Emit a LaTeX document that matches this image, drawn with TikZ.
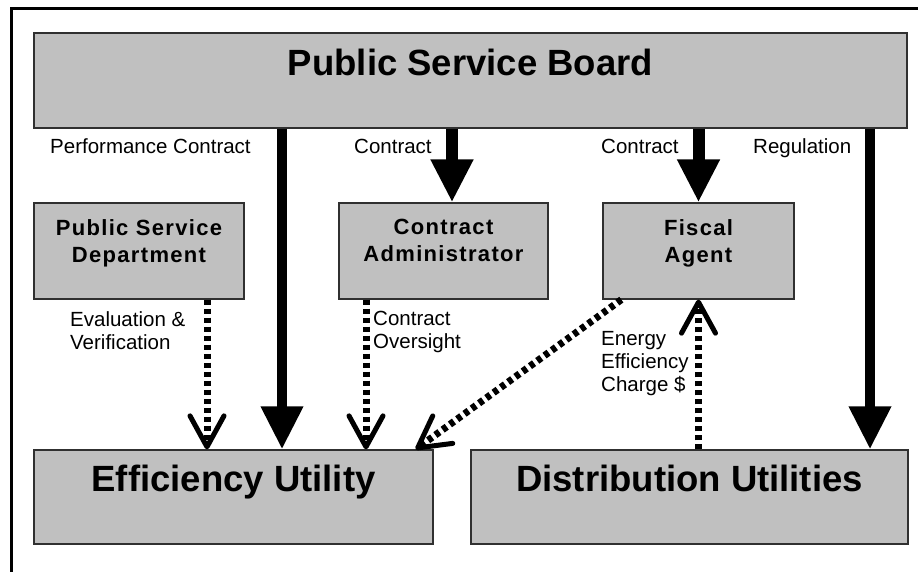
\documentclass[tikz,border=0pt]{standalone}
\usepackage{fontspec}
\setmainfont{Liberation Sans}
\newfontfamily\boxfont[LetterSpace=6]{Liberation Sans}
\usetikzlibrary{arrows.meta}
\definecolor{boxgray}{HTML}{C0C0C0}
\definecolor{boxline}{HTML}{303030}

\tikzset{
  orgbox/.style={draw=boxline, line width=1.3pt, fill=boxgray, inner sep=0pt},
  bigtext/.style={font=\bfseries\fontsize{36.5}{40}\selectfont, inner sep=0pt},
  boxtext/.style={font=\boxfont\bfseries\fontsize{22}{27}\selectfont, align=center, inner sep=0pt},
  lbl/.style={font=\fontsize{20.5}{23}\selectfont, align=left, inner sep=0pt},
  thickarrow/.style={line width=10pt, -{Triangle[width=40pt,length=43pt]}},
  dotarrow/.style={line width=7pt, dash pattern=on 5pt off 4pt,
    -{Straight Barb[width=34pt,length=31pt,line width=5pt,round]}}
}

\begin{document}
\begin{tikzpicture}[x=1pt,y=-1pt]
  \useasboundingbox (0,0) rectangle (918,572);

  % 外框(只有上边和左边)
  \draw[line width=3pt] (11.5,572) -- (11.5,8.5) -- (918,8.5);

  % 方框
  \node[orgbox, minimum width=873pt, minimum height=95pt] (psb) at (470.5,80.5) {};
  \node[orgbox, minimum width=210pt, minimum height=96pt] (psd) at (139,251) {};
  \node[orgbox, minimum width=209pt, minimum height=96pt] (ca)  at (443.5,251) {};
  \node[orgbox, minimum width=191pt, minimum height=96pt] (fa)  at (698.5,251) {};
  \node[orgbox, minimum width=399pt, minimum height=94pt] (eu)  at (233.5,497) {};
  \node[orgbox, minimum width=437pt, minimum height=94pt] (du)  at (689.5,497) {};

  % 框内文字(靠上)
  \node[bigtext, anchor=base] (psbtxt) at ([yshift=-43pt]psb.north) {Public Service Board};
  \node[boxtext, anchor=north] (psdtxt) at ([yshift=-17pt]psd.north) {Public Service\\Department};
  \node[boxtext, anchor=north] (catxt)  at ([yshift=-17pt]ca.north) {Contract\\Administrator};
  \node[boxtext, anchor=north] (fatxt)  at ([yshift=-17pt]fa.north) {Fiscal\\Agent};
  \node[bigtext, anchor=base] (eutxt) at ([yshift=-42pt]eu.north) {Efficiency Utility};
  \node[bigtext, anchor=base] (dutxt) at ([yshift=-42pt]du.north) {Distribution Utilities};

  % 实线箭头
  \draw[thickarrow] ([xshift=-188.5pt]psb.south) -- ([xshift=48.5pt]eu.north);
  \draw[thickarrow, line width=12pt] ([xshift=-18.5pt]psb.south) -- ([xshift=8.5pt]ca.north);
  \draw[thickarrow, line width=12pt] (psb.south -| fa.north) -- (fa.north);
  \draw[thickarrow] ([xshift=399.5pt]psb.south) -- ([xshift=180.5pt]du.north);

  % 虚线箭头
  \draw[dotarrow] ([xshift=68pt]psd.south) -- ([xshift=-26.5pt]eu.north);
  \draw[dotarrow] ([xshift=-77.5pt]ca.south) -- ([xshift=132.5pt]eu.north);
  \draw[dotarrow] ([xshift=19pt]fa.south west) -- ([xshift=-18pt]eu.north east);
  \draw[dotarrow] (fa.south |- du.north) -- (fa.south);

  % 箭头标注
  \node[lbl, anchor=base west] (perf) at (50,154) {Performance Contract};
  \node[lbl, anchor=base west] (con1) at (354,154) {Contract};
  \node[lbl, anchor=base west] (con2) at (601,154) {Contract};
  \node[lbl, anchor=base west] (reg)  at (753,154) {Regulation};
  \node[lbl, anchor=north west] (ev)  at (70,311) {Evaluation \&\\Verification};
  \node[lbl, anchor=north west] (co)  at (373,311) {Contract\\Oversight};
  \node[lbl, anchor=north west] (eec) at (601,331) {Energy\\Efficiency\\Charge \$};
\end{tikzpicture}
\end{document}
